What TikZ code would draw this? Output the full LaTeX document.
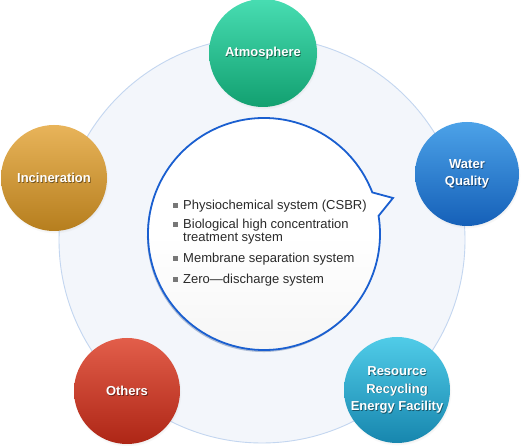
\documentclass[tikz,border=0pt]{standalone}
\usepackage{fontspec}
\setmainfont{Liberation Sans}
\usetikzlibrary{shadows}
\definecolor{ringfill}{HTML}{F3F6FB}
\definecolor{ringline}{HTML}{C3D6F0}
\definecolor{bubbleline}{HTML}{1A5FD0}
\definecolor{txt}{HTML}{2A2A2A}
\definecolor{bulletc}{HTML}{777777}
\definecolor{atmT}{HTML}{48DDB2}
\definecolor{atmB}{HTML}{12A070}
\definecolor{watT}{HTML}{4CA2E8}
\definecolor{watB}{HTML}{1560B8}
\definecolor{resT}{HTML}{50CCE8}
\definecolor{resB}{HTML}{1786AE}
\definecolor{othT}{HTML}{E25E4A}
\definecolor{othB}{HTML}{AE2616}
\definecolor{incT}{HTML}{E8B45A}
\definecolor{incB}{HTML}{B67E1E}
\begin{document}
\begin{tikzpicture}[x=1pt,y=1pt,
  ball/.style={circle, inner sep=0pt, outer sep=0pt,
    circular drop shadow={shadow xshift=0.5pt, shadow yshift=-1.5pt, shadow scale=1.02, opacity=0.3, fill=black!45}},
  lbl/.style={text=white, font=\fontsize{13}{17.5}\selectfont\bfseries, align=center, inner sep=0pt},
  lblshadow/.style={text=black, opacity=0.45, font=\fontsize{13}{17.5}\selectfont\bfseries, align=center, inner sep=0pt},
  item/.style={anchor=base west, text=txt, font=\fontsize{13}{13}\selectfont, inner sep=0pt},
  bull/.style={fill=bulletc, minimum size=5pt, inner sep=0pt, outer sep=0pt}
]
\useasboundingbox (0,0) rectangle (524,446);
\fill[white] (0,0) rectangle (524,446);

% big background ring
\node[circle, minimum size=406pt, inner sep=0pt, draw=ringline, line width=0.9pt, fill=ringfill] (ring) at (262,206) {};

% central speech bubble
\node[circle, minimum size=232pt, inner sep=0pt, outer sep=0pt] (bubble) at (264,212) {};
\coordinate (tip) at (393,248);
\path[draw=bubbleline, line width=1.8pt, top color=white, bottom color=black!4, middle color=white,
  drop shadow={shadow xshift=-1pt, shadow yshift=-2pt, opacity=0.3, fill=bubbleline!60!black}]
  (bubble.21) arc[start angle=21, end angle=369, radius=116pt] -- (tip) -- cycle;

% bullet list
\node[bull] (b1) at (175,240) {};
\node[item] (t1) at (183,236) {Physiochemical system (CSBR)};
\node[bull] (b2) at (175,221) {};
\node[item] (t2) at (183,217) {Biological high concentration};
\node[item] (t2b) at (183,204) {treatment system};
\node[bull] (b3) at (175,187) {};
\node[item] (t3) at (183,183) {Membrane separation system};
\node[bull] (b4) at (175,166) {};
\node[item] (t4) at (183,162) {Zero\textemdash discharge system};

% outer circles
\node[ball, minimum size=108pt, top color=atmT, bottom color=atmB] (atm) at (263,393) {};
\node[ball, minimum size=104pt, top color=watT, bottom color=watB] (wat) at (467,272) {};
\node[ball, minimum size=106pt, top color=resT, bottom color=resB] (res) at (397,56) {};
\node[ball, minimum size=106pt, top color=othT, bottom color=othB] (oth) at (127,55) {};
\node[ball, minimum size=106pt, top color=incT, bottom color=incB] (inc) at (54,268) {};

% labels
\node[lblshadow] at ([shift={(0.8,-0.9)}]atm) {Atmosphere};
\node[lbl] (atmL) at (atm) {Atmosphere};
\node[lblshadow] at ([shift={(0.8,-0.9)}]wat) {Water\\Quality};
\node[lbl] (watL) at (wat) {Water\\Quality};
\node[lblshadow] at ([shift={(0.8,-0.9)}]res) {Resource\\Recycling\\Energy Facility};
\node[lbl] (resL) at (res) {Resource\\Recycling\\Energy Facility};
\node[lblshadow] at ([shift={(0.8,-0.9)}]oth) {Others};
\node[lbl] (othL) at (oth) {Others};
\node[lblshadow] at ([shift={(0.8,-0.9)}]inc) {Incineration};
\node[lbl] (incL) at (inc) {Incineration};
\end{tikzpicture}
\end{document}
